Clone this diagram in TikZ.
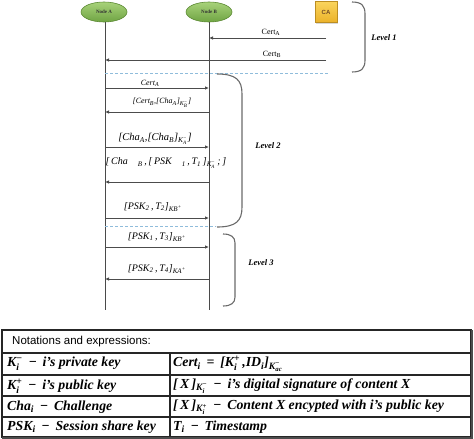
\documentclass[tikz,border=0pt]{standalone}
\usepackage{fontspec}
\usepackage{amsmath}
\setmainfont{Liberation Serif}
\newfontfamily\arialf{Liberation Sans}
\usetikzlibrary{arrows.meta,shapes.geometric,shadows}
\newcommand\sbs[1]{\ensuremath{_{\text{#1}}}}
\newcommand\sbp[2]{\ensuremath{_{\text{#1}}^{\text{#2}}}}
\definecolor{lifegray}{HTML}{4A4A4A}
\definecolor{dashblue}{HTML}{8FBCDB}
\definecolor{bracegray}{HTML}{6A6A6A}
\definecolor{gtop}{HTML}{A8D27A}
\definecolor{gbot}{HTML}{6FA443}
\definecolor{gline}{HTML}{5C8A34}
\definecolor{catop}{HTML}{FAD45C}
\definecolor{cabot}{HTML}{EBB22A}
\begin{document}
\begin{tikzpicture}[x=1pt,y=-1pt,
  actor/.style={ellipse, draw=gline, line width=0.6pt, top color=gtop, bottom color=gbot,
    minimum width=46, minimum height=20, inner sep=0,
    font=\fontsize{5}{6}\selectfont\bfseries, text=black!80},
  cabox/.style={draw=cabot!80!black, line width=0.4pt, top color=catop, bottom color=cabot,
    minimum width=22, minimum height=21, inner sep=0,
    drop shadow={shadow xshift=1pt, shadow yshift=-1pt, fill=black!30},
    font=\arialf\fontsize{6}{7}\selectfont\bfseries, text=brown!60!black},
  life/.style={draw=lifegray, line width=0.8pt},
  arr/.style={draw=black!70, line width=0.8pt, -{Latex[length=4pt,width=3.5pt]}},
  dashln/.style={draw=dashblue, line width=0.8pt, dash pattern=on 3pt off 2pt},
  brace/.style={draw=bracegray, line width=1.1pt},
  lvl/.style={font=\fontsize{8.5}{10}\selectfont\bfseries\itshape, inner sep=0},
  msg/.style={font=\fontsize{8}{9}\selectfont\itshape, inner sep=0},
  grid/.style={draw=black!85, line width=1.1pt},
  cell/.style={anchor=west, inner sep=0, font=\fontsize{13.8}{15}\selectfont\bfseries\itshape}
]
\useasboundingbox (0,0) rectangle (474,439);

% actors
\node[actor] (A) at (104,12) {Node A};
\node[actor] (B) at (209,12) {Node B};
\node[cabox] (CA) at (326,12) {CA};

% lifelines
\coordinate (Aend) at (105,310);
\coordinate (Bend) at (209,310);
\draw[life] (A.south -| Aend) -- (Aend);
\draw[life] (B.south -| Bend) -- (Bend);

% Level 1
\coordinate (c1) at (326,38);
\coordinate (b1) at (209,38);
\coordinate (c2) at (326,60);
\coordinate (a2) at (105,60);
\draw[arr] (c1) -- (b1);
\draw[arr] (c2) -- (a2);
\node[font=\fontsize{8}{9}\selectfont, inner sep=0] (t1) at (271,32) {Cert\sbs{A}};
\node[font=\fontsize{8}{9}\selectfont, inner sep=0] (t2) at (272,54) {Cert\sbs{B}};

\coordinate (d1s) at (105,73);
\coordinate (d1e) at (328,73);
\draw[dashln] (d1s) -- (d1e);
\draw[brace] (352,2) .. controls (362,2) and (365,6) .. (365,14) -- (365,60)
  .. controls (365,68) and (362,72) .. (352,72);
\node[lvl] (L1) at (384,38) {Level 1};

% Level 2
\coordinate (a3) at (105,88);  \coordinate (b3) at (209,88);
\coordinate (a4) at (105,112); \coordinate (b4) at (209,112);
\coordinate (a5) at (105,147); \coordinate (b5) at (209,147);
\coordinate (a6) at (105,182); \coordinate (b6) at (209,182);
\coordinate (a7) at (105,218); \coordinate (b7) at (209,218);
\draw[arr] (a3) -- (b3);
\draw[arr] (b4) -- (a4);
\draw[arr] (a5) -- (b5);
\draw[arr] (b6) -- (a6);
\draw[arr] (a7) -- (b7);
\node[msg] (m3) at (150,83) {Cert\sbs{A}};
\node[msg, font=\fontsize{8}{9}\selectfont\itshape] (m4) at (162,103)
  {[Cert\sbs{B},[Cha\sbs{A}]\sbs{K\sbp{B}{−}}]};
\node[msg, font=\fontsize{10.5}{12}\selectfont\itshape] (m5) at (155,139)
  {[Cha\sbs{A},[Cha\sbs{B}]\sbs{K\sbp{A}{−}}]};
\node[msg, font=\fontsize{10}{11}\selectfont\itshape] (m6) at (166,163)
  {[\,Cha\quad\sbs{B}\,,\,[\,PSK\quad\sbs{1}\,,\,T\sbs{1}\,]\sbs{K\sbp{A}{−}}\,;\,]};
\node[msg, font=\fontsize{10}{11}\selectfont\itshape] (m7) at (153,207)
  {[PSK\sbs{2}\,,\,T\sbs{2}]\sbs{KB\textsuperscript{+}}};

\coordinate (d2s) at (105,226);
\coordinate (d2e) at (216,226);
\draw[dashln] (d2s) -- (d2e);
\draw[brace] (217,74) .. controls (236,74) and (242,80) .. (242,94) -- (242,207)
  .. controls (242,221) and (236,227) .. (217,227);
\node[lvl] (L2) at (268,146) {Level 2};

% Level 3
\coordinate (a8) at (105,247); \coordinate (b8) at (209,247);
\coordinate (a9) at (105,279); \coordinate (b9) at (209,279);
\draw[arr] (a8) -- (b8);
\draw[arr] (b9) -- (a9);
\node[msg, font=\fontsize{10}{11}\selectfont\itshape] (m8) at (157,237)
  {[PSK\sbs{1}\,,\,T\sbs{3}]\sbs{KB\textsuperscript{+}}};
\node[msg, font=\fontsize{10}{11}\selectfont\itshape] (m9) at (157,269)
  {[PSK\sbs{2}\,,\,T\sbs{4}]\sbs{KA\textsuperscript{+}}};
\draw[brace] (223,234) .. controls (231,234) and (235,237) .. (235,243) -- (235,297)
  .. controls (235,303) and (231,306) .. (223,306);
\node[lvl] (L3) at (261,263) {Level 3};

% Table
\coordinate (tl) at (2,330);
\coordinate (br) at (471,437);
\draw[grid] (tl) rectangle (br);
\draw[draw=black!70, line width=2.2pt] (472,330) -- (472,438) -- (2,438);
\draw[grid] (2,353) -- (471,353);
\draw[grid] (2,375) -- (471,375);
\draw[grid] (2,396) -- (471,396);
\draw[grid] (2,417) -- (471,417);
\draw[grid] (170,353) -- (170,437);

\node[anchor=west, inner sep=0, font=\arialf\fontsize{11.5}{13}\selectfont] (hd) at (12,342)
  {Notations and expressions:};
\node[cell] (r1l) at (7,364) {K\sbp{i}{−} \,−\, i’s private key};
\node[cell] (r2l) at (7,386) {K\sbp{i}{+} \,−\, i’s public key};
\node[cell] (r3l) at (7,407) {Cha\sbs{i} \,−\, Challenge};
\node[cell] (r4l) at (7,427) {PSK\sbs{i} \,−\, Session share key};
\node[cell] (r1r) at (173,364) {Cert\sbs{i} \,=\, [K\sbp{i}{+}\,,ID\sbs{i}]\sbs{K\sbp{ac}{−}}};
\node[cell] (r2r) at (173,386) {[\,X\,]\sbs{K\sbp{i}{−}} \,−\, i’s digital signature of content X};
\node[cell] (r3r) at (173,407) {[\,X\,]\sbs{K\sbp{i}{+}} \,−\, Content X encypted with i’s public key};
\node[cell] (r4r) at (173,427) {T\sbs{i} \,−\, Timestamp};
\end{tikzpicture}
\end{document}
